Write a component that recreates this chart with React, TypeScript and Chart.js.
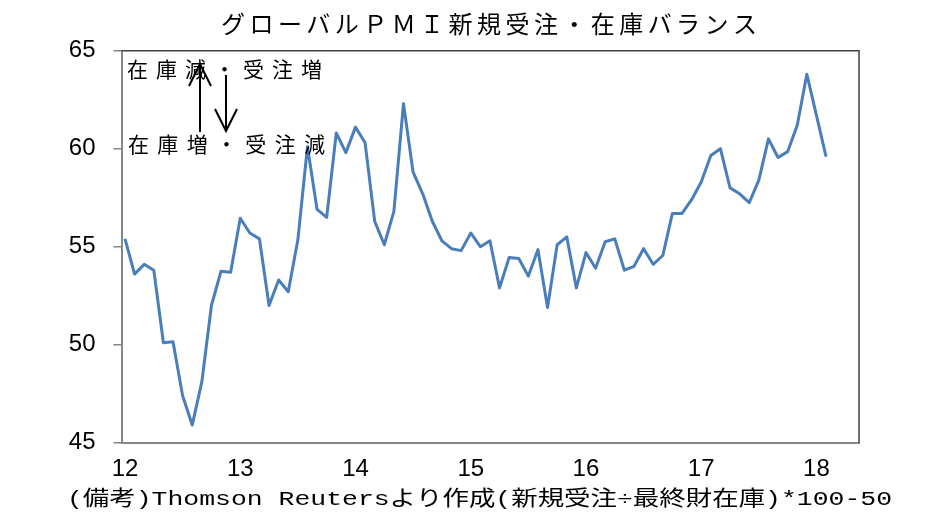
import React, { useEffect, useRef } from "react";
import { Chart, registerables } from "chart.js";

Chart.register(...registerables);

// Monthly values, Jan 2012 .. Feb 2018
const pmiBalance: number[] = [
  55.4, 53.6, 54.1, 53.8, 50.1, 50.15, 47.4, 45.9, 48.1, 52.0, 53.75, 53.7,
  56.45, 55.7, 55.4, 52.0, 53.3, 52.7, 55.35, 60.1, 56.9, 56.5, 60.8, 59.8,
  61.1, 60.3, 56.3, 55.1, 56.8, 62.3, 58.8, 57.7, 56.3, 55.3, 54.9, 54.8,
  55.7, 55.0, 55.3, 52.9, 54.45, 54.4, 53.5, 54.85, 51.9, 55.1, 55.5, 52.9,
  54.7, 53.9, 55.25, 55.4, 53.8, 54.0, 54.9, 54.1, 54.55, 56.7, 56.7, 57.4,
  58.3, 59.65, 60.0, 58.0, 57.7, 57.25, 58.4, 60.5, 59.55, 59.85, 61.2, 63.8,
  61.7, 59.6,
];

const yearLabels: string[] = ["12", "13", "14", "15", "16", "17", "18"];
const yearStartIndex: number[] = [0, 12, 24, 36, 48, 60, 72];
const yMin = 45;
const yMax = 65;
const yStep = 5;

const titleText = "グローバルＰＭＩ新規受注・在庫バランス";
const footerText = "(備考)Thomson Reutersより作成(新規受注÷最終財在庫)*100-50";
const upNote = "在庫減・受注増";
const downNote = "在庫増・受注減";

const JP = '"Noto Sans CJK JP", "Noto Sans", sans-serif';
const JP_MONO = '"Liberation Mono", "Noto Sans CJK JP", monospace';

function drawSpread(ctx: CanvasRenderingContext2D, text: string, left: number, y: number, width: number) {
  const c: any = ctx;
  c.letterSpacing = "0px";
  ctx.textAlign = "left";
  ctx.textBaseline = "middle";
  const w = ctx.measureText(text).width;
  const n = Array.from(text).length;
  const ls = n > 1 ? (width - w) / (n - 1) : 0;
  c.letterSpacing = ls + "px";
  ctx.fillText(text, left, y);
  c.letterSpacing = "0px";
}

function drawStretched(ctx: CanvasRenderingContext2D, text: string, left: number, y: number, width: number) {
  ctx.textAlign = "left";
  ctx.textBaseline = "middle";
  const w = ctx.measureText(text).width;
  const sx = width / w;
  ctx.save();
  ctx.translate(left, y);
  ctx.scale(sx, 1);
  ctx.fillText(text, 0, 0);
  ctx.restore();
}

function arrow(ctx: CanvasRenderingContext2D, x: number, y0: number, y1: number) {
  const dir = y1 < y0 ? 1 : -1;
  ctx.beginPath();
  ctx.moveTo(x, y0);
  ctx.lineTo(x, y1);
  ctx.moveTo(x - 11, y1 + dir * 22);
  ctx.lineTo(x, y1);
  ctx.lineTo(x + 11, y1 + dir * 22);
  ctx.stroke();
}

const decor = {
  id: "decor",
  afterDraw(chart: any) {
    const ctx: CanvasRenderingContext2D = chart.ctx;
    const a = chart.chartArea;
    ctx.save();
    // box top/right
    ctx.strokeStyle = "#404040";
    ctx.lineWidth = 1.5;
    ctx.beginPath();
    ctx.moveTo(a.left, a.top);
    ctx.lineTo(a.right, a.top);
    ctx.lineTo(a.right, a.bottom);
    ctx.stroke();

    ctx.fillStyle = "#000";
    ctx.font = `24px ${JP}`;
    drawSpread(ctx, titleText, 221, 24, 536);
    ctx.font = `21px ${JP_MONO}`;
    drawStretched(ctx, footerText, 67, 499, 825);
    ctx.font = `21px ${JP}`;
    drawSpread(ctx, upNote, 127, 69, 195);
    drawSpread(ctx, downNote, 128, 144, 197);

    ctx.strokeStyle = "#000";
    ctx.lineWidth = 2;
    arrow(ctx, 200, 132, 64);
    arrow(ctx, 226, 75, 131);
    ctx.restore();
  },
};

export default function App() {
  const ref = useRef<HTMLCanvasElement>(null);

  useEffect(() => {
    if (!ref.current) return;
    const chart = new Chart(ref.current, {
      type: "line",
      data: {
        datasets: [
          {
            data: pmiBalance.map((v, i) => ({ x: i, y: v })),
            borderColor: "#4a7ebb",
            borderWidth: 3,
            pointRadius: 0,
            tension: 0,
            borderJoinStyle: "round",
            fill: false,
          },
        ],
      },
      options: {
        animation: false,
        responsive: true,
        maintainAspectRatio: false,
        layout: { padding: { left: 0, right: 75, top: 50.7, bottom: 0 } },
        plugins: { legend: { display: false }, tooltip: { enabled: false }, title: { display: false } },
        scales: {
          x: {
            type: "linear",
            min: -0.364,
            max: 76.43,
            afterBuildTicks: (scale: any) => {
              scale.ticks = yearStartIndex.map((v) => ({ value: v }));
            },
            afterFit: (scale: any) => {
              scale.height = 82.3;
            },
            ticks: {
              autoSkip: false,
              maxRotation: 0,
              padding: 12,
              color: "#000",
              font: { family: '"Liberation Sans", Arial, sans-serif', size: 24 },
              callback: (v: any) => {
                const k = yearStartIndex.indexOf(Number(v));
                return k >= 0 ? yearLabels[k] : "";
              },
            },
            grid: { display: true, drawOnChartArea: false, drawTicks: false },
            border: { display: true, color: "#868686", width: 2 },
          },
          y: {
            min: yMin,
            max: yMax,
            afterFit: (scale: any) => {
              scale.width = 121.5;
            },
            ticks: {
              stepSize: yStep,
              padding: 18,
              color: "#000",
              font: { family: '"Liberation Sans", Arial, sans-serif', size: 24 },
            },
            grid: { display: true, drawOnChartArea: false, drawTicks: true, tickLength: 8, color: "#868686", lineWidth: 1.5 },
            border: { display: true, color: "#868686", width: 2 },
          },
        },
      },
      plugins: [decor],
    });
    return () => chart.destroy();
  }, []);

  return (
    <div style={{ position: "fixed", left: 0, top: 0, width: 934, height: 525, background: "#fff" }}>
      <canvas ref={ref} />
    </div>
  );
}
